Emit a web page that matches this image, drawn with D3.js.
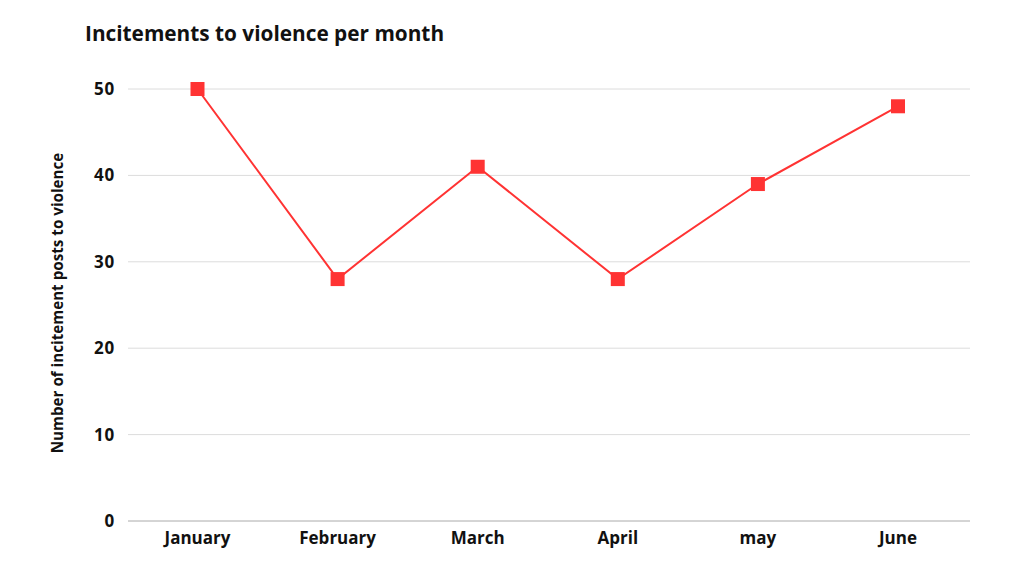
<!DOCTYPE html>
<html><head><meta charset="utf-8">
<script src="https://cdn.jsdelivr.net/npm/d3@7"></script>
<style>body{margin:0;background:#fff;} svg{display:block;font-family:"Open Sans",sans-serif;}</style>
</head><body>
<svg id="c" width="1024" height="576"></svg>
<script>
const months = ["January","February","March","April","may","June"];
const values = [50,28,41,28,39,48];
const yTicks = [0,10,20,30,40,50];
const title = "Incitements to violence per month";
const yLabel = "Number of incitement posts to violence";

const svg = d3.select("#c");
const x = d3.scalePoint().domain(months).range([197.5,898]);
const y = d3.scaleLinear().domain([0,50]).range([521,89]);
const left=128, right=970;

svg.append("text").attr("x",85).attr("y",41).attr("font-size",20.8).attr("font-weight",700).attr("fill","#111").text(title);

const g = svg.append("g");
g.selectAll("line.grid").data(yTicks).join("line")
 .attr("x1",left).attr("x2",right).attr("y1",d=>y(d)).attr("y2",d=>y(d))
 .attr("stroke",d=>d===0?"#aaa":"#dcdcdc").attr("stroke-width",1);
g.selectAll("text.yt").data(yTicks).join("text")
 .attr("x",115).attr("y",d=>y(d)).attr("dy","0.35em").attr("text-anchor","end")
 .attr("font-size",17).attr("font-weight",700).attr("fill","#111").attr("letter-spacing",0.8).text(d=>d);
g.selectAll("text.xt").data(months).join("text")
 .attr("x",d=>x(d)).attr("y",544).attr("text-anchor","middle")
 .attr("font-size",17).attr("font-weight",700).attr("fill","#111").text(d=>d);
svg.append("text").attr("transform","translate(63,303) rotate(-90)").attr("text-anchor","middle")
 .attr("font-size",15.2).attr("font-weight",700).attr("fill","#111").text(yLabel);

const line = d3.line().x((d,i)=>x(months[i])).y(d=>y(d));
svg.append("path").datum(values).attr("d",line).attr("fill","none").attr("stroke","#ff3333").attr("stroke-width",2);
svg.selectAll("rect.m").data(values).join("rect")
 .attr("x",(d,i)=>x(months[i])-7).attr("y",d=>y(d)-7).attr("width",14).attr("height",14).attr("fill","#ff3333");
</script>
</body></html>
